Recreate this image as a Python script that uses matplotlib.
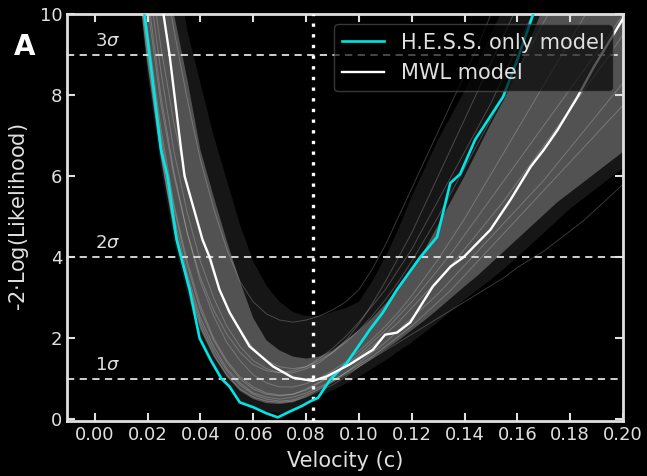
import numpy as np
import matplotlib
matplotlib.use("Agg")
import matplotlib.pyplot as plt

# H.E.S.S. only model (cyan)
hess_v = [0.0188, 0.0207, 0.0251, 0.0275, 0.0310, 0.0327, 0.0359, 0.0397, 0.0440, 0.0480,
          0.0510, 0.0549, 0.0600, 0.0650, 0.0693, 0.0740, 0.0784, 0.0814, 0.0845, 0.0891,
          0.0954, 0.1040, 0.1090, 0.1144, 0.1232, 0.1296, 0.1346, 0.1383, 0.1440, 0.1546,
          0.1596, 0.1660]
hess_l = [10.0, 9.0, 6.65, 6.0, 4.43, 4.0, 3.2, 2.0, 1.45, 1.0,
          0.81, 0.42, 0.3, 0.15, 0.05, 0.2, 0.33, 0.44, 0.53, 0.98,
          1.39, 2.2, 2.63, 3.2, 4.0, 4.5, 5.83, 6.05, 6.9, 7.96,
          8.8, 10.0]

# MWL model (white)
mwl_v = [0.0260, 0.0283, 0.0327, 0.0340, 0.0408, 0.0435, 0.0472, 0.0511, 0.0586, 0.0674,
         0.0750, 0.0826, 0.0878, 0.0966, 0.1053, 0.1099, 0.1144, 0.1194, 0.1280, 0.1347,
         0.1396, 0.1498, 0.1574, 0.1650, 0.1700, 0.1752, 0.1828, 0.1890, 0.1990, 0.2010]
mwl_l = [10.0, 9.0, 6.65, 6.0, 4.43, 4.0, 3.2, 2.63, 1.8, 1.31,
         1.03, 0.95, 1.06, 1.36, 1.72, 2.09, 2.14, 2.39, 3.28, 3.77,
         4.0, 4.68, 5.42, 6.23, 6.65, 7.14, 7.96, 8.7, 9.78, 10.0]

# bundle of MWL realisations (grey), read as envelopes on a velocity grid
grid_v = [0.015, 0.020, 0.025, 0.030, 0.035, 0.040, 0.045, 0.050, 0.055, 0.060,
          0.065, 0.070, 0.075, 0.080, 0.085, 0.090, 0.095, 0.100, 0.105, 0.110,
          0.115, 0.120, 0.125, 0.130, 0.135, 0.140, 0.145, 0.150, 0.155, 0.160,
          0.165, 0.170, 0.175, 0.180, 0.185, 0.190, 0.195, 0.200]
outer_lo = [11.5, 8.5, 6.2, 4.4, 3.1, 2.0, 1.35, 0.85, 0.45, 0.3,
            0.2, 0.15, 0.2, 0.35, 0.55, 0.72, 0.88, 1.05, 1.25, 1.45,
            1.68, 1.9, 2.15, 2.4, 2.68, 2.95, 3.2, 3.45, 3.72, 4.0,
            4.3, 4.6, 4.9, 5.2, 5.45, 5.7, 5.95, 6.2]
outer_hi = [14, 14, 13, 11.5, 9.6, 8.3, 7.0, 5.9, 4.8, 3.9,
            3.3, 2.9, 2.65, 2.55, 2.55, 2.65, 2.75, 2.9, 3.4, 4.0,
            4.7, 5.5, 6.2, 6.9, 7.5, 8.1, 8.8, 9.5, 10.2, 11,
            12, 12, 12, 12, 12, 12, 12, 12]
core_lo = [11.5, 8.8, 6.5, 4.6, 3.3, 2.2, 1.55, 1.05, 0.7, 0.5,
           0.4, 0.38, 0.42, 0.55, 0.72, 0.9, 1.08, 1.28, 1.5, 1.72,
           1.95, 2.2, 2.45, 2.72, 3.0, 3.28, 3.55, 3.85, 4.15, 4.45,
           4.75, 5.05, 5.35, 5.6, 5.85, 6.1, 6.35, 6.6]
core_hi = [14, 13, 12, 10.0, 8.4, 6.65, 5.5, 4.4, 3.4, 2.5,
           1.95, 1.7, 1.55, 1.5, 1.55, 1.7, 1.95, 2.2, 2.5, 2.85,
           3.25, 3.7, 4.2, 4.8, 5.4, 6.0, 6.65, 7.3, 7.9, 8.6,
           9.4, 10.2, 11, 11.5, 12, 12.5, 13, 13]

# a few individual realisations for texture
samples = [
    [14, 13, 11.5, 9.6, 7.9, 6.4, 5.2, 4.2, 3.4, 2.9, 2.6, 2.45, 2.4, 2.45, 2.55, 2.7, 2.9, 3.2, 3.7,
     4.3, 5.0, 5.7, 6.4, 7.1, 7.8, 8.5, 9.2, 10, 11, 12, 12, 12, 12, 12, 12, 12, 12, 12],
    [12.5, 10.2, 7.8, 6.0, 4.6, 3.5, 2.7, 2.1, 1.65, 1.35, 1.2, 1.15, 1.2, 1.3, 1.5, 1.75, 2.05, 2.4, 2.8,
     3.2, 3.7, 4.2, 4.8, 5.4, 6.0, 6.6, 7.2, 7.8, 8.5, 9.2, 9.9, 10.6, 11.3, 12, 12.5, 13, 13.5, 14],
    [12, 9.2, 6.8, 5.0, 3.6, 2.5, 1.8, 1.25, 0.9, 0.65, 0.55, 0.5, 0.55, 0.65, 0.8, 0.95, 1.15, 1.35, 1.55,
     1.8, 2.05, 2.3, 2.6, 2.9, 3.2, 3.55, 3.9, 4.25, 4.6, 4.95, 5.3, 5.65, 6.0, 6.35, 6.7, 7.05, 7.4, 7.75],
    [11.8, 8.8, 6.5, 4.7, 3.4, 2.3, 1.6, 1.1, 0.75, 0.55, 0.45, 0.42, 0.45, 0.55, 0.7, 0.85, 1.05, 1.3, 1.5,
     1.7, 1.9, 2.1, 2.3, 2.5, 2.7, 2.9, 3.1, 3.3, 3.5, 3.75, 3.95, 4.15, 4.4, 4.65, 4.9, 5.2, 5.5, 5.8],
    [13, 11, 8.6, 6.6, 5.1, 3.9, 3.0, 2.3, 1.8, 1.45, 1.25, 1.15, 1.15, 1.25, 1.4, 1.65, 1.95, 2.35, 2.85,
     3.4, 4.0, 4.6, 5.3, 6.0, 6.7, 7.4, 8.1, 8.8, 9.5, 10.2, 11, 11.5, 12, 12, 12, 12, 12, 12],
    [12, 9.6, 7.2, 5.3, 3.9, 2.8, 2.0, 1.45, 1.05, 0.8, 0.65, 0.6, 0.62, 0.72, 0.9, 1.1, 1.3, 1.55, 1.8,
     2.1, 2.4, 2.75, 3.1, 3.45, 3.8, 4.2, 4.6, 5.0, 5.4, 5.85, 6.3, 6.75, 7.2, 7.65, 8.1, 8.55, 9.0, 9.5],
    [12, 9.0, 6.6, 4.8, 3.5, 2.4, 1.7, 1.2, 0.85, 0.62, 0.5, 0.45, 0.48, 0.6, 0.75, 0.95, 1.15, 1.4, 1.65,
     1.9, 2.2, 2.5, 2.8, 3.1, 3.45, 3.8, 4.15, 4.5, 4.85, 5.2, 5.55, 5.9, 6.3, 6.7, 7.1, 7.5, 7.9, 8.3],
    [13.5, 11.5, 9.2, 7.3, 5.8, 4.6, 3.6, 2.8, 2.2, 1.75, 1.45, 1.3, 1.25, 1.3, 1.45, 1.65, 1.9, 2.2, 2.55,
     2.95, 3.4, 3.9, 4.45, 5.0, 5.6, 6.2, 6.8, 7.4, 8.0, 8.6, 9.2, 9.8, 10.4, 11, 11.6, 12, 12.5, 13],
    [12.2, 9.4, 7.0, 5.2, 3.8, 2.7, 1.95, 1.4, 1.0, 0.75, 0.62, 0.58, 0.62, 0.75, 0.92, 1.12, 1.35, 1.6, 1.9,
     2.2, 2.55, 2.9, 3.3, 3.7, 4.1, 4.55, 5.0, 5.45, 5.9, 6.35, 6.8, 7.25, 7.7, 8.15, 8.6, 9.05, 9.5, 10.0],
    [12.8, 10.5, 8.0, 6.1, 4.6, 3.4, 2.55, 1.9, 1.45, 1.1, 0.9, 0.8, 0.8, 0.88, 1.02, 1.2, 1.42, 1.68, 1.98,
     2.3, 2.65, 3.05, 3.5, 3.95, 4.45, 4.95, 5.5, 6.05, 6.6, 7.15, 7.7, 8.25, 8.8, 9.35, 9.9, 10.5, 11, 11.5],
]

sigma_levels = [1, 4, 9]
sigma_labels = [r"$1\sigma$", r"$2\sigma$", r"$3\sigma$"]
best_v = 0.0826

fg = "#e0e0e0"
fig = plt.figure(figsize=(6.47, 4.76), dpi=100, facecolor="black")
ax = fig.add_axes([0.1036, 0.1155, 0.8594, 0.8551], facecolor="black")

ax.fill_between(grid_v, outer_lo, outer_hi, color="white", alpha=0.09, lw=0)
ax.fill_between(grid_v, core_lo, core_hi, color="white", alpha=0.26, lw=0)
for s in samples:
    ax.plot(grid_v, s, color="white", alpha=0.22, lw=0.7)

for lvl, lab in zip(sigma_levels, sigma_labels):
    ax.axhline(lvl, color=fg, ls=(0, (4, 3)), lw=1.3, zorder=3)
    ax.text(0.0, lvl + 0.12, lab, color=fg, fontsize=13, va="bottom", ha="left")
ax.axvline(best_v, color="white", ls=(0, (1, 2.2)), lw=2.4, zorder=3)

ax.plot(hess_v, hess_l, color="#00e6e6", lw=1.9, zorder=5, label="H.E.S.S. only model")
ax.plot(mwl_v, mwl_l, color="white", lw=1.7, zorder=5, label="MWL model")

ax.set_xlim(-0.0105, 0.20)
ax.set_ylim(-0.04, 10)
ax.set_xticks([0.00, 0.02, 0.04, 0.06, 0.08, 0.10, 0.12, 0.14, 0.16, 0.18, 0.20])
ax.set_yticks([0, 2, 4, 6, 8, 10])
ax.xaxis.set_major_formatter(matplotlib.ticker.FormatStrFormatter("%.2f"))
ax.tick_params(direction="in", top=True, right=True, length=6, width=1.5,
               colors=fg, labelsize=13)
for sp in ax.spines.values():
    sp.set_color(fg)
    sp.set_linewidth(2)
ax.set_xlabel("Velocity (c)", color=fg, fontsize=15, labelpad=5)
ax.set_ylabel("-2$\\cdot$Log(Likelihood)", color=fg, fontsize=15, labelpad=6)

leg = ax.legend(loc="upper right", fontsize=15, facecolor="black", edgecolor="#555555",
                framealpha=0.65, labelcolor=fg)
leg.set_zorder(10)

fig.text(0.022, 0.885, "A", color="white", fontsize=20, fontweight="bold")

fig.savefig("out.png", dpi=100, facecolor="black")
